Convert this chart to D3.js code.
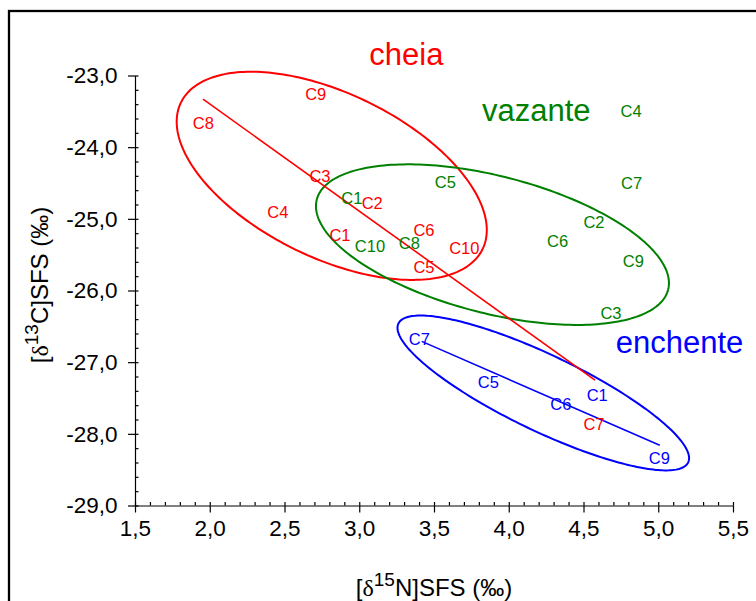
<!DOCTYPE html>
<html><head><meta charset="utf-8">
<script src="https://cdn.jsdelivr.net/npm/d3@7/dist/d3.min.js"></script>
<style>body{margin:0;background:#fff}</style>
</head><body><svg id="c" width="756" height="601"></svg>
<script>
// ---- data ----
const groupNames = ["cheia", "vazante", "enchente"];
const groupColors = ["#ff0000", "#008000", "#0000ff"];

const cheiaLabels = ["C1","C2","C3","C4","C5","C6","C7","C8","C9","C10"];
const cheiaN = [2.871, 3.087, 2.737, 2.455, 3.433, 3.433, 4.570, 1.957, 2.709, 3.703];
const cheiaC = [-25.22, -24.78, -24.40, -24.91, -25.67, -25.16, -27.87, -23.66, -23.26, -25.41];

const vazanteLabels = ["C1","C2","C3","C4","C5","C6","C7","C8","C9","C10"];
const vazanteN = [2.950, 4.570, 4.684, 4.818, 3.576, 4.327, 4.822, 3.335, 4.833, 3.072];
const vazanteC = [-24.71, -25.04, -26.31, -23.50, -24.49, -25.31, -24.50, -25.34, -25.59, -25.38];

const enchenteLabels = ["C1","C5","C6","C7","C9"];
const enchenteN = [4.592, 3.863, 4.348, 3.402, 5.007];
const enchenteC = [-27.46, -27.28, -27.59, -26.68, -28.34];

// regression lines (start, end) in data units
const cheiaFitN = [1.955, 4.577];
const cheiaFitC = [-23.33, -27.25];
const enchenteFitN = [3.418, 5.010];
const enchenteFitC = [-26.71, -28.16];

// ellipses: centre and two conjugate half-axis vectors, data units
const cheiaEllipse = [2.816, -24.40, 1.009, -1.022, -0.240, -1.032];
const vazanteEllipse = [3.891, -25.36, 1.175, -0.629, -0.114, -0.927];
const enchenteEllipse = [4.231, -27.43, 0.969, -0.969, -0.110, -0.478];

// group title anchor points (data units)
const groupTitleN = [3.315, 4.184, 5.142];
const groupTitleC = [-22.854, -23.63, -26.866];

const xTicks = [1.5, 2.0, 2.5, 3.0, 3.5, 4.0, 4.5, 5.0, 5.5];
const yTicks = [-29, -28, -27, -26, -25, -24, -23];
const xMinor = d3.range(15, 56).map(d => d / 10);
const yMinor = d3.range(-145, -114).map(d => d / 5);

// ---- drawing ----
const svg = d3.select("#c");
const FONT = "'Liberation Sans', Arial, sans-serif";
const x = d3.scaleLinear().domain([1.5, 5.5]).range([135, 733]);
const y = d3.scaleLinear().domain([-29, -23]).range([505.5, 75.5]);
const fmt = d => d.toFixed(1).replace(".", ",");

// outer frame
svg.append("rect").attr("x", 9).attr("y", 11).attr("width", 900).attr("height", 800)
  .attr("fill", "none").attr("stroke", "#000").attr("stroke-width", 2.3);

// axes
const gx = svg.append("g").attr("transform", `translate(0,${y(-29)})`)
  .call(d3.axisBottom(x).tickValues(xTicks).tickSize(7).tickSizeOuter(0).tickPadding(8).tickFormat(fmt));
const gxm = svg.append("g").attr("transform", `translate(0,${y(-29)})`)
  .call(d3.axisBottom(x).tickValues(xMinor).tickSize(-3.5).tickSizeOuter(0).tickFormat(""));
gxm.select(".domain").remove();
const gy = svg.append("g").attr("transform", `translate(${x(1.5)},0)`)
  .call(d3.axisLeft(y).tickValues(yTicks).tickSize(7).tickSizeOuter(0).tickPadding(10.5).tickFormat(fmt));
const gym = svg.append("g").attr("transform", `translate(${x(1.5)},0)`)
  .call(d3.axisLeft(y).tickValues(yMinor).tickSize(-3.5).tickSizeOuter(0).tickFormat(""));
gym.select(".domain").remove();
svg.selectAll(".domain, .tick line").attr("stroke", "#000").attr("stroke-width", 1.2);
[gx, gy].forEach(g => g.selectAll("text").attr("font-family", FONT).attr("font-size", 22.5).attr("fill", "#000"));

// axis titles
function axisTitle(g, sup, letter) {
  const t = g.append("text").attr("font-family", FONT).attr("font-size", 24).attr("fill", "#000").attr("text-anchor", "middle");
  t.append("tspan").text("[");
  t.append("tspan").attr("font-family", "'Liberation Serif', 'Times New Roman', serif").text("δ");
  t.append("tspan").attr("font-size", 19).attr("dy", -10).text(sup);
  t.append("tspan").attr("dy", 10).text(letter + "]SFS (‰)");
  return t;
}
axisTitle(svg.append("g").attr("transform", "translate(434,596)"), "15", "N");
axisTitle(svg.append("g").attr("transform", "translate(48,285) rotate(-90)"), "13", "C");

// ellipses
const ellipses = [cheiaEllipse, vazanteEllipse, enchenteEllipse];
const line = d3.line().curve(d3.curveLinearClosed);
ellipses.forEach((e, i) => {
  const pts = d3.range(0, 240).map(k => {
    const t = k / 240 * 2 * Math.PI;
    return [x(e[0] + e[2] * Math.cos(t) + e[4] * Math.sin(t)), y(e[1] + e[3] * Math.cos(t) + e[5] * Math.sin(t))];
  });
  svg.append("path").attr("d", line(pts)).attr("fill", "none").attr("stroke", groupColors[i]).attr("stroke-width", 2);
});

// regression lines
svg.append("line").attr("x1", x(cheiaFitN[0])).attr("y1", y(cheiaFitC[0])).attr("x2", x(cheiaFitN[1])).attr("y2", y(cheiaFitC[1]))
  .attr("stroke", groupColors[0]).attr("stroke-width", 1.6);
svg.append("line").attr("x1", x(enchenteFitN[0])).attr("y1", y(enchenteFitC[0])).attr("x2", x(enchenteFitN[1])).attr("y2", y(enchenteFitC[1]))
  .attr("stroke", groupColors[2]).attr("stroke-width", 1.6);

// point labels
const groups = [[cheiaLabels, cheiaN, cheiaC], [vazanteLabels, vazanteN, vazanteC], [enchenteLabels, enchenteN, enchenteC]];
groups.forEach((g, i) => {
  svg.append("g").selectAll("text").data(g[0]).join("text")
    .attr("x", (d, j) => x(g[1][j])).attr("y", (d, j) => y(g[2][j]))
    .attr("dy", "0.36em").attr("text-anchor", "middle")
    .attr("font-family", FONT).attr("font-size", 16.5).attr("fill", groupColors[i]).text(d => d);
});

// group titles
svg.append("g").selectAll("text").data(groupNames).join("text")
  .attr("x", (d, i) => x(groupTitleN[i])).attr("y", (d, i) => y(groupTitleC[i]))
  .attr("text-anchor", "middle").attr("font-family", FONT).attr("font-size", 31)
  .attr("fill", (d, i) => groupColors[i]).text(d => d);
</script></body></html>
